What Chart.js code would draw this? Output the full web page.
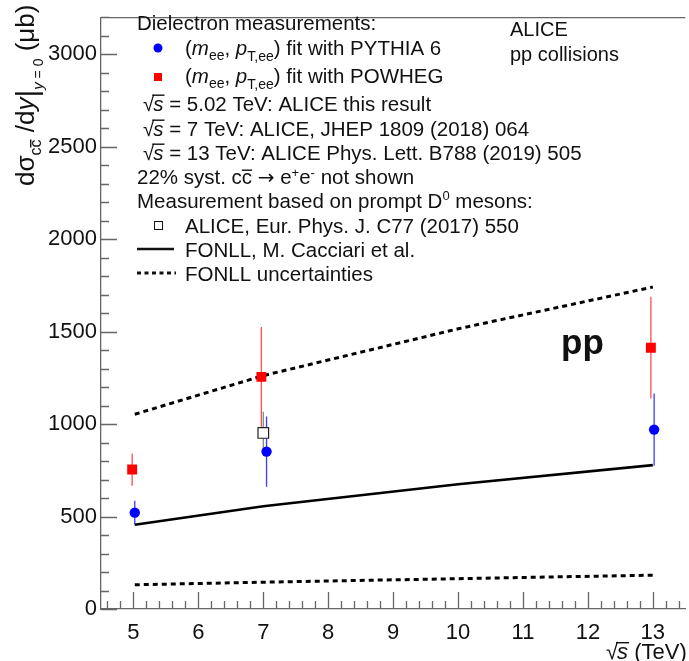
<!DOCTYPE html>
<html>
<head>
<meta charset="utf-8">
<script src="https://cdn.jsdelivr.net/npm/chart.js@4.4.1/dist/chart.umd.min.js"></script>
<style>
  html, body { margin: 0; padding: 0; background: #fff; overflow: hidden; }
</style>
</head>
<body>
<canvas id="xsec" width="694" height="661"></canvas>
<script>
// charm cross section dσ/dy at y=0 vs collision energy
const pythiaX = [5.02, 7.05, 13.02];
const pythiaY = [521, 851, 970];
const pythiaErr = [64, 190, 195];

const powhegX = [4.98, 6.97, 12.97];
const powhegY = [754, 1255, 1413];
const powhegErr = [87, 270, 275];

const d0X = [7.0];
const d0Y = [952];
const d0Err = [115];

const fonllX = [5.02, 7, 10, 13];
const fonllY = [456, 556, 675, 778];
const fonllUp = [1053, 1262, 1515, 1741];
const fonllLow = [131, 145, 164, 183];

const xTicks = [5, 6, 7, 8, 9, 10, 11, 12, 13];
const yTicks = [0, 500, 1000, 1500, 2000, 2500, 3000];

const FONT = '"Liberation Sans", Arial, Helvetica, sans-serif';
const BLUE = '#0000ff';
const RED = '#ff0000';

const pts = (xs, ys) => xs.map((x, i) => ({ x: x, y: ys[i] }));

// draws a row of text pieces left to right, returns the end x
function rich(ctx, x, y, parts, base) {
  for (const p of parts) {
    ctx.font = p.font || base;
    const w = ctx.measureText(p.text).width;
    ctx.fillText(p.text, x, y + (p.dy || 0));
    if (p.bar !== undefined) ctx.fillRect(x + (p.barL || 0), y + p.bar, w - (p.barL || 0) + (p.barR || 0), 1.4);
    x += w + (p.dx || 0);
  }
  return x;
}

// vertical error bars, drawn under the markers
const errorBars = {
  id: 'errorBars',
  beforeDatasetsDraw(chart) {
    const { ctx, scales: { x, y } } = chart;
    ctx.save();
    chart.data.datasets.forEach(ds => {
      if (!ds.err) return;
      ctx.strokeStyle = ds.errColor;
      ctx.lineWidth = 1.3;
      ds.data.forEach((p, i) => {
        const px = x.getPixelForValue(p.x);
        ctx.beginPath();
        ctx.moveTo(px, y.getPixelForValue(p.y - ds.err[i]));
        ctx.lineTo(px, y.getPixelForValue(p.y + ds.err[i]));
        ctx.stroke();
      });
    });
    ctx.restore();
  }
};

// ROOT style frame: inward major/minor ticks and a top line
const frameTicks = {
  id: 'frameTicks',
  afterDraw(chart) {
    const { ctx, chartArea: a, scales: { x, y } } = chart;
    ctx.save();
    ctx.strokeStyle = '#666';
    ctx.lineWidth = 1.3;
    ctx.beginPath();
    for (let v = 0; v <= 3200; v += 100) {
      const py = Math.round(y.getPixelForValue(v)) + 0.5;
      const len = v % 500 === 0 ? 16 : 8;
      ctx.moveTo(a.left, py);
      ctx.lineTo(a.left + len, py);
    }
    for (let i = 0; i <= 45; i++) {
      const v = 4.6 + i * 0.2;
      const px = Math.round(x.getPixelForValue(v)) + 0.5;
      const major = Math.abs(v - Math.round(v)) < 1e-6;
      ctx.moveTo(px, a.bottom);
      ctx.lineTo(px, a.bottom - (major ? 17 : 8));
    }
    ctx.moveTo(a.left, a.top + 0.5);
    ctx.lineTo(a.right, a.top + 0.5);
    ctx.stroke();
    ctx.restore();
  }
};

// legend, labels and axis titles
const annotations = {
  id: 'annotations',
  afterDraw(chart) {
    const ctx = chart.ctx;
    const base = '20.5px ' + FONT;
    const ital = 'italic 20.5px ' + FONT;
    const sub = '14px ' + FONT;
    const sup = '13px ' + FONT;
    ctx.save();
    ctx.fillStyle = '#111';
    ctx.textBaseline = 'alphabetic';

    const rows = [22, 47, 75, 103, 128, 152, 176, 200, 225, 249, 273].map(r => r + 7.5);
    const sqrtS = [{ text: '√', dx: -1 }, { text: 's', font: ital, bar: -16, barL: -1, barR: 1 }];
    const mp = [
      { text: '(' }, { text: 'm', font: ital }, { text: 'ee', font: sub, dy: 5 },
      { text: ', ' }, { text: 'p', font: ital }, { text: 'T,ee', font: sub, dy: 6 }
    ];

    rich(ctx, 137, rows[0], [{ text: 'Dielectron measurements:' }], base);
    rich(ctx, 185, rows[1], mp.concat([{ text: ') fit with PYTHIA 6' }]), base);
    rich(ctx, 185, rows[2], mp.concat([{ text: ') fit with POWHEG' }]), base);
    rich(ctx, 143, rows[3], sqrtS.concat([{ text: ' = 5.02 TeV: ALICE this result' }]), base);
    rich(ctx, 143, rows[4], sqrtS.concat([{ text: ' = 7 TeV: ALICE, JHEP 1809 (2018) 064' }]), base);
    rich(ctx, 143, rows[5], sqrtS.concat([{ text: ' = 13 TeV: ALICE Phys. Lett. B788 (2019) 505' }]), base);
    rich(ctx, 137, rows[6], [
      { text: '22% syst. c' }, { text: 'c', bar: -14 }, { text: ' ' }, { text: '→', font: '20px "DejaVu Sans", sans-serif' },
      { text: ' e' }, { text: '+', font: sup, dy: -7 }, { text: 'e' }, { text: '-', font: sup, dy: -7 },
      { text: ' not shown' }
    ], base);
    rich(ctx, 137, rows[7], [
      { text: 'Measurement based on prompt D' }, { text: '0', font: sup, dy: -8 }, { text: ' mesons:' }
    ], base);
    rich(ctx, 185, rows[8], [{ text: 'ALICE, Eur. Phys. J. C77 (2017) 550' }], base);
    rich(ctx, 185, rows[9], [{ text: 'FONLL, M. Cacciari et al.' }], base);
    rich(ctx, 185, rows[10], [{ text: 'FONLL uncertainties' }], base);

    // legend markers
    ctx.fillStyle = BLUE;
    ctx.beginPath();
    ctx.arc(158, 48, 4.5, 0, Math.PI * 2);
    ctx.fill();
    ctx.fillStyle = RED;
    ctx.fillRect(154, 73, 8, 8);
    ctx.strokeStyle = '#111';
    ctx.lineWidth = 1;
    ctx.strokeRect(154.5, 221.5, 8, 8);
    ctx.lineWidth = 2.5;
    ctx.beginPath();
    ctx.moveTo(137, 249);
    ctx.lineTo(174, 249);
    ctx.stroke();
    ctx.lineWidth = 3;
    ctx.setLineDash([4, 3.5]);
    ctx.beginPath();
    ctx.moveTo(137, 273);
    ctx.lineTo(176, 273);
    ctx.stroke();
    ctx.setLineDash([]);

    ctx.fillStyle = '#111';
    ctx.font = '20px ' + FONT;
    ctx.fillText('ALICE', 510, 36);
    ctx.fillText('pp collisions', 510, 61);
    ctx.font = 'bold 35px ' + FONT;
    ctx.fillText('pp', 561, 354);

    // x title
    rich(ctx, 606, 659, [{ text: '√', dx: -1 }, { text: 's', font: 'italic 22px ' + FONT, bar: -17, barL: -1, barR: 1 },
      { text: ' (TeV)' }], '22px ' + FONT);

    // y title, rotated
    ctx.translate(34, 186);
    ctx.rotate(-Math.PI / 2);
    const yb = '26px ' + FONT;
    const ys = '16px ' + FONT;
    rich(ctx, 0, 0, [
      { text: 'dσ' }, { text: 'c', font: ys, dy: 7 }, { text: 'c', font: ys, dy: 7, bar: -4 },
      { text: ' /d' }, { text: 'y', font: 'italic 26px ' + FONT }, { text: '|', font: '30px ' + FONT, dy: 3 },
      { text: 'y', font: 'italic 15px ' + FONT, dy: 9 }, { text: ' = 0', font: '14px ' + FONT, dy: 9 },
      { text: ' (μb)' }
    ], yb);
    ctx.restore();
  }
};

new Chart(document.getElementById('xsec'), {
  type: 'scatter',
  data: {
    datasets: [
      {
        label: 'PYTHIA 6', data: pts(pythiaX, pythiaY), err: pythiaErr, errColor: '#3b3bff',
        pointStyle: 'circle', pointRadius: 5.2, backgroundColor: BLUE, borderWidth: 0
      },
      {
        label: 'POWHEG', data: pts(powhegX, powhegY), err: powhegErr, errColor: '#ff4d4d',
        pointStyle: 'rect', pointRadius: 7, backgroundColor: RED, borderWidth: 0
      },
      {
        label: 'D0', data: pts(d0X, d0Y), err: d0Err, errColor: '#888',
        pointStyle: 'rect', pointRadius: 7.5, backgroundColor: '#fff', borderColor: '#222', borderWidth: 1.2
      },
      {
        label: 'FONLL', data: pts(fonllX, fonllY), showLine: true, pointRadius: 0,
        borderColor: '#000', borderWidth: 2.6
      },
      {
        label: 'FONLL max', data: pts(fonllX, fonllUp), showLine: true, pointRadius: 0,
        borderColor: '#000', borderWidth: 3, borderDash: [5, 4]
      },
      {
        label: 'FONLL min', data: pts(fonllX, fonllLow), showLine: true, pointRadius: 0,
        borderColor: '#000', borderWidth: 3, borderDash: [5, 4]
      }
    ]
  },
  options: {
    responsive: false,
    animation: false,
    layout: { padding: { top: 7, right: 1, left: 0, bottom: 0 } },
    plugins: { legend: { display: false }, tooltip: { enabled: false } },
    scales: {
      x: {
        type: 'linear', min: 4.5, max: 13.5,
        grid: { display: false, drawTicks: false },
        border: { display: true, color: '#666', width: 1.3 },
        ticks: { font: { family: FONT, size: 22 }, color: '#111', padding: 11 },
        afterBuildTicks: s => { s.ticks = xTicks.map(v => ({ value: v })); },
        afterFit: s => { s.height = 52; }
      },
      y: {
        min: 0, max: 3200,
        grid: { display: false, drawTicks: false },
        border: { display: true, color: '#666', width: 1.3 },
        ticks: { font: { family: FONT, size: 22 }, color: '#111', padding: 4, callback: v => String(v) },
        afterBuildTicks: s => { s.ticks = yTicks.map(v => ({ value: v })); },
        afterFit: s => { s.width = 101; }
      }
    }
  },
  plugins: [errorBars, frameTicks, annotations]
});
</script>
</body>
</html>
